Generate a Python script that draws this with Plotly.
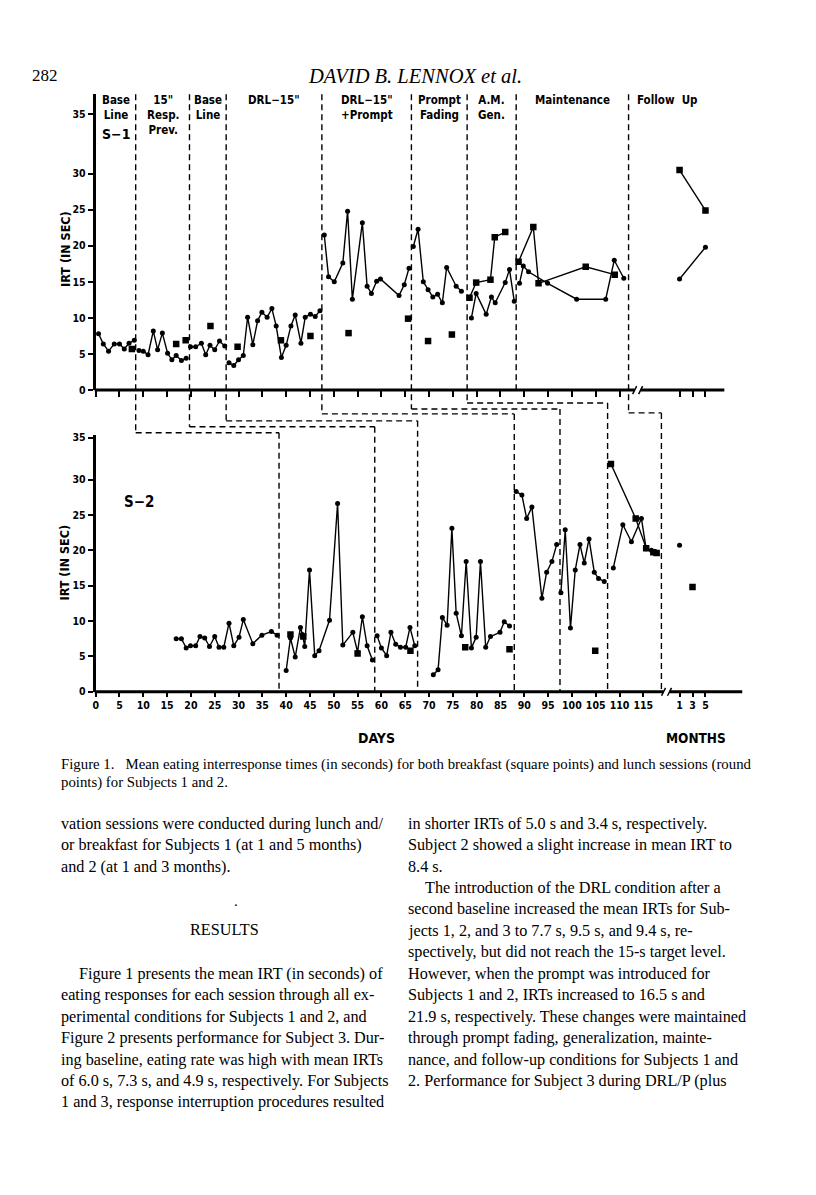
import plotly.graph_objects as go

# page is 816x1195; the browser adds an 8px body margin, so the figure is 800x1179
PAGE_W, PAGE_H, OFF = 816, 1195, 8
W, H = PAGE_W - 2 * OFF, PAGE_H - 2 * OFF

# ---------------- data ----------------
S1_PHASE_CHANGES = [8.4, 19.7, 27.4, 47.5, 66.3, 78.0, 88.3, 111.9]
S2_PHASE_CHANGES = [38.5, 58.6, 67.6, 87.9, 97.5, 107.5, 118.8]

S1_PHASE_LABELS = [["Base", "Line"], ['15"', "Resp.", "Prev."], ["Base", "Line"],
                   ['DRL\u221215"'], ['DRL\u221215"', "+Prompt"], ["Prompt", "Fading"],
                   ["A.M.", "Gen."], ["Maintenance"], ["Follow\u00a0\u00a0Up"]]

# Subject 1 – lunch (round points), one list per phase
S1_LUNCH_DAYS = [
    [0.6, 1.6, 2.7, 3.9, 5.0, 6.0, 7.0, 8.1],
    [9.1, 10.0, 11.0, 12.1, 13.0, 14.0, 15.1, 16.0, 16.9, 18.0, 19.0],
    [19.9, 21.0, 22.2, 23.1, 24.0, 25.0, 26.0, 27.1],
    [28.0, 29.0, 30.0, 31.0, 31.9, 33.0, 34.0, 34.9, 36.0, 37.0, 37.9, 39.0, 40.0, 41.0,
     41.9, 43.1, 44.0, 45.1, 46.1, 47.1],
    [48.0, 48.9, 50.1, 51.9, 52.9, 53.9, 56.0, 57.0, 57.9, 59.0, 59.8, 63.7, 64.8, 65.8],
    [66.7, 67.7, 68.8, 69.8, 70.8, 71.8, 72.8, 73.7, 75.7, 76.8],
    [78.9, 79.9, 82.0, 83.1, 83.9, 86.0, 86.9, 87.9],
    [89.0, 89.8, 90.9, 94.9, 101.0, 107.1, 108.9, 110.9],
]
S1_LUNCH_IRT = [
    [7.8, 6.4, 5.4, 6.4, 6.4, 5.7, 6.5, 6.9],
    [5.5, 5.4, 4.9, 8.2, 5.6, 7.9, 5.1, 4.2, 4.8, 4.1, 4.4],
    [6.0, 6.0, 6.5, 4.9, 6.2, 5.6, 6.8, 6.1],
    [3.8, 3.4, 4.2, 4.8, 10.1, 6.3, 9.6, 10.8, 10.1, 11.3, 8.9, 4.5, 6.2, 8.9,
     10.4, 6.5, 10.1, 10.5, 10.2, 11.0],
    [21.5, 15.7, 15.0, 17.6, 24.8, 12.6, 23.2, 14.4, 13.4, 15.1, 15.4, 13.1, 14.6, 16.9],
    [19.9, 22.3, 15.0, 13.9, 12.9, 13.3, 12.1, 17.0, 14.4, 13.7],
    [10.0, 13.4, 10.5, 12.9, 12.1, 14.9, 16.7, 12.3],
    [14.8, 17.2, 16.4, 14.8, 12.6, 12.6, 18.0, 15.5],
]
# Subject 1 – breakfast (square points)
S1_BREAKFAST_LINE_DAYS = [[78.5, 79.9, 82.9, 83.8, 86.0], [88.8, 91.9, 93.0, 102.9, 109.0]]
S1_BREAKFAST_LINE_IRT = [[12.8, 14.9, 15.3, 21.2, 21.9], [17.8, 22.6, 14.8, 17.1, 16.0]]
S1_BREAKFAST_DAYS = [7.6, 16.9, 18.9, 24.1, 29.8, 38.9, 45.1, 53.1, 65.6, 69.8, 74.8]
S1_BREAKFAST_IRT = [5.7, 6.4, 6.9, 8.9, 6.0, 6.9, 7.5, 7.9, 9.9, 6.8, 7.7]
S1_FOLLOWUP_MONTHS = [1, 5]
S1_FOLLOWUP_BREAKFAST = [30.5, 24.9]
S1_FOLLOWUP_LUNCH = [15.4, 19.8]

# Subject 2 – lunch (round points), one list per phase
S2_LUNCH_DAYS = [
    [16.9, 18.0, 19.0, 19.9, 21.0, 21.9, 22.9, 23.9, 25.0, 25.9, 26.9, 28.0, 29.0, 30.1,
     31.0, 33.0, 34.9, 36.9, 38.1],
    [40.0, 40.9, 41.9, 43.0, 43.4, 43.9, 44.9, 46.0, 46.9, 49.1, 50.8, 51.9, 54.0, 55.0,
     56.0, 57.0, 58.1],
    [59.1, 60.0, 61.1, 62.0, 63.0, 64.0, 65.1, 66.0, 67.0],
    [70.9, 71.9, 72.8, 73.8, 74.8, 75.7, 76.8, 77.8, 78.9, 79.9, 80.8, 81.9, 82.9, 84.9,
     85.8, 86.9],
    [88.3, 89.5, 90.5, 91.6, 93.7, 94.7, 95.8, 96.8],
    [97.7, 98.6, 99.7, 100.7, 101.7, 102.6, 103.6, 104.7, 105.6, 106.8],
    [108.7, 110.7, 112.5, 114.6, 115.6, 116.7, 117.7],
]
S2_LUNCH_IRT = [
    [7.5, 7.5, 6.2, 6.5, 6.5, 7.8, 7.6, 6.4, 7.8, 6.3, 6.3, 9.7, 6.5, 7.7,
     10.2, 6.8, 8.0, 8.5, 8.0],
    [3.0, 7.6, 4.9, 9.1, 8.1, 6.4, 17.2, 5.1, 5.8, 10.1, 26.6, 6.6, 8.4, 5.6,
     10.6, 6.5, 4.5],
    [7.9, 6.2, 5.1, 8.4, 6.7, 6.3, 6.3, 9.1, 6.5],
    [2.4, 3.1, 10.5, 9.4, 23.1, 11.1, 7.9, 18.4, 6.2, 7.7, 18.4, 6.3, 7.8, 8.4,
     9.9, 9.3],
    [28.3, 27.8, 24.5, 26.1, 13.2, 16.9, 18.4, 20.8],
    [14.0, 22.9, 9.0, 17.2, 20.8, 18.2, 21.6, 16.9, 16.0, 15.6],
    [17.5, 23.6, 21.2, 24.5, 20.2, 20.0, 19.6],
]
S2_BREAKFAST_LINE_DAYS = [[108.2, 113.4, 115.6, 117.1, 117.8]]
S2_BREAKFAST_LINE_IRT = [[32.2, 24.5, 20.3, 19.7, 19.6]]
S2_BREAKFAST_DAYS = [40.9, 43.6, 55.0, 66.1, 77.6, 86.9, 104.9]
S2_BREAKFAST_IRT = [8.1, 7.8, 5.4, 5.8, 6.3, 6.0, 5.8]
S2_FOLLOWUP_LUNCH_MONTHS = [1]
S2_FOLLOWUP_LUNCH = [20.7]
S2_FOLLOWUP_BREAKFAST_MONTHS = [3]
S2_FOLLOWUP_BREAKFAST = [14.8]

DAY_TICKS = list(range(0, 120, 5))
MONTH_TICKS = [1, 3, 5]
Y_TICKS = [0, 5, 10, 15, 20, 25, 30, 35]

# ---------------- layout geometry (page pixels) ----------------
X0_PX, X1_PX, PX_PER_DAY = 93, 740, 4.78
XMAX = (X1_PX - X0_PX) / PX_PER_DAY
MONTH_ORIGIN, MONTH_STEP = 121.25, 1.36          # months drawn after the axis break

TOP_Y0_PX, TOP_Y1_PX, TOP_PX_PER_UNIT = 390, 92, 7.27
BOT_Y0_PX, BOT_Y1_PX, BOT_PX_PER_UNIT = 694, 435, 7.13
TOP_YMAX = (TOP_Y0_PX - TOP_Y1_PX) / TOP_PX_PER_UNIT
BOT_YMAX = (BOT_Y0_PX - BOT_Y1_PX) / BOT_PX_PER_UNIT
TOP_35_POS = (TOP_Y0_PX - 112) / TOP_PX_PER_UNIT   # the "35" tick sits higher in the original
BOT_35_POS = (BOT_Y0_PX - 438) / BOT_PX_PER_UNIT

CHART_FONT = "DejaVu Sans Condensed, Liberation Sans Narrow, Arial Narrow, Liberation Sans, sans-serif"
SERIF = "Liberation Serif, Times New Roman, serif"


def mx(m):
    return MONTH_ORIGIN + MONTH_STEP * m


def px(xp):
    return (xp - OFF) / W


def py(yp):
    return 1 - (yp - OFF) / H


def joined(groups_x, groups_y):
    xs, ys = [], []
    for gx, gy in zip(groups_x, groups_y):
        xs += list(gx) + [None]
        ys += list(gy) + [None]
    return xs, ys


LINE = dict(color="black", width=1.4)
ROUND = dict(symbol="circle", size=5, color="black")
SQUARE = dict(symbol="square", size=6.5, color="black")

fig = go.Figure()


def add_panel(xa, ya, lunch_d, lunch_v, bl_d, bl_v, b_d, b_v):
    x, y = joined(lunch_d, lunch_v)
    fig.add_trace(go.Scatter(x=x, y=y, mode="lines+markers", line=LINE, marker=ROUND,
                             xaxis=xa, yaxis=ya, connectgaps=False, hoverinfo="skip"))
    x, y = joined(bl_d, bl_v)
    fig.add_trace(go.Scatter(x=x, y=y, mode="lines+markers", line=LINE, marker=SQUARE,
                             xaxis=xa, yaxis=ya, connectgaps=False, hoverinfo="skip"))
    fig.add_trace(go.Scatter(x=b_d, y=b_v, mode="markers", marker=SQUARE,
                             xaxis=xa, yaxis=ya, hoverinfo="skip"))


add_panel("x", "y", S1_LUNCH_DAYS, S1_LUNCH_IRT, S1_BREAKFAST_LINE_DAYS,
          S1_BREAKFAST_LINE_IRT, S1_BREAKFAST_DAYS, S1_BREAKFAST_IRT)
fig.add_trace(go.Scatter(x=[mx(m) for m in S1_FOLLOWUP_MONTHS], y=S1_FOLLOWUP_BREAKFAST,
                         mode="lines+markers", line=LINE, marker=SQUARE, xaxis="x", yaxis="y"))
fig.add_trace(go.Scatter(x=[mx(m) for m in S1_FOLLOWUP_MONTHS], y=S1_FOLLOWUP_LUNCH,
                         mode="lines+markers", line=LINE, marker=ROUND, xaxis="x", yaxis="y"))

add_panel("x2", "y2", S2_LUNCH_DAYS, S2_LUNCH_IRT, S2_BREAKFAST_LINE_DAYS,
          S2_BREAKFAST_LINE_IRT, S2_BREAKFAST_DAYS, S2_BREAKFAST_IRT)
fig.add_trace(go.Scatter(x=[mx(m) for m in S2_FOLLOWUP_LUNCH_MONTHS], y=S2_FOLLOWUP_LUNCH,
                         mode="markers", marker=ROUND, xaxis="x2", yaxis="y2"))
fig.add_trace(go.Scatter(x=[mx(m) for m in S2_FOLLOWUP_BREAKFAST_MONTHS], y=S2_FOLLOWUP_BREAKFAST,
                         mode="markers", marker=SQUARE, xaxis="x2", yaxis="y2"))

tick_font = dict(family=CHART_FONT, size=10.5, color="black", weight="bold")
xdom = [px(X0_PX), px(X1_PX)]
all_xticks = DAY_TICKS + [mx(m) for m in MONTH_TICKS]

fig.update_layout(
    width=W, height=H, margin=dict(l=0, r=0, t=0, b=0),
    paper_bgcolor="white", plot_bgcolor="rgba(0,0,0,0)", showlegend=False,
    xaxis=dict(domain=xdom, range=[0, XMAX], anchor="y", showline=False, showgrid=False,
               zeroline=False, ticks="outside", ticklen=6, tickwidth=1.5, tickcolor="black",
               tickvals=DAY_TICKS[:-1] + [mx(m) for m in MONTH_TICKS], showticklabels=False),
    yaxis=dict(domain=[py(TOP_Y0_PX), py(TOP_Y1_PX)], range=[0, TOP_YMAX], anchor="x",
               showline=True, linewidth=3, linecolor="black", showgrid=False, zeroline=False,
               ticks="outside", ticklen=5, tickwidth=1.5, tickcolor="black",
               tickvals=Y_TICKS[:-1] + [TOP_35_POS], ticktext=[str(v) for v in Y_TICKS],
               tickfont=tick_font),
    xaxis2=dict(domain=xdom, range=[0, XMAX], anchor="y2", showline=False, showgrid=False,
                zeroline=False, ticks="outside", ticklen=4, tickwidth=1.5, tickcolor="black",
                tickvals=all_xticks,
                ticktext=[str(v) for v in DAY_TICKS] + [str(m) for m in MONTH_TICKS],
                tickfont=tick_font),
    yaxis2=dict(domain=[py(BOT_Y0_PX), py(BOT_Y1_PX)], range=[0, BOT_YMAX], anchor="x2",
                showline=True, linewidth=3, linecolor="black", showgrid=False, zeroline=False,
                ticks="outside", ticklen=5, tickwidth=1.5, tickcolor="black",
                tickvals=Y_TICKS[:-1] + [BOT_35_POS], ticktext=[str(v) for v in Y_TICKS],
                tickfont=tick_font),
)

shapes = []


def pline(x0, y0, x1, y1, w=3, dash=None):
    shapes.append(dict(type="line", xref="paper", yref="paper", x0=px(x0), y0=py(y0),
                       x1=px(x1), y1=py(y1), line=dict(color="black", width=w, dash=dash)))


# x-axis lines with "//" break
for y_ax, brk, end in [(TOP_Y0_PX, 637, 724), (BOT_Y0_PX, 666, 742)]:
    pline(X0_PX - 1, y_ax, brk - 3, y_ax)
    pline(brk + 3, y_ax, end, y_ax)
    pline(brk - 5, y_ax + 4, brk - 1, y_ax - 4, w=1.5)
    pline(brk + 1, y_ax + 4, brk + 5, y_ax - 4, w=1.5)

DASH = "6px,4px"


def dline(xd0, y0, xd1, y1):
    shapes.append(dict(type="line", xref="x", yref="paper", x0=xd0, y0=py(y0), x1=xd1,
                       y1=py(y1), line=dict(color="black", width=1.4, dash=DASH)))


# staircase of phase-change lines linking both subjects
CONNECT = {0: (0, 433), 1: (1, 427), 2: (2, 421), 3: (3, 414), 4: (4, 409), 5: (5, 403), 7: (6, 413)}
for i, d in enumerate(S1_PHASE_CHANGES):
    if i in CONNECT:
        j, ycon = CONNECT[i]
        d2 = S2_PHASE_CHANGES[j]
        dline(d, TOP_Y1_PX, d, ycon)
        dline(d, ycon, d2, ycon)
        dline(d2, ycon, d2, BOT_Y0_PX)
    else:
        dline(d, TOP_Y1_PX, d, TOP_Y0_PX)

fig.update_layout(shapes=shapes)

annotations = []


def ann(text, x, y, size, family=CHART_FONT, bold=True, xref="paper", xanchor="center",
        yanchor="middle", italic=False, angle=0):
    annotations.append(dict(
        text=text, x=(x if xref != "paper" else px(x)), y=py(y), xref=xref, yref="paper",
        xanchor=xanchor, yanchor=yanchor, showarrow=False, textangle=angle,
        font=dict(family=family, size=size, color="black",
                  weight="bold" if bold else "normal", style="italic" if italic else "normal")))


# phase labels for Subject 1 (one wrapped text per phase)
bounds = [0] + S1_PHASE_CHANGES
for k, lines in enumerate(S1_PHASE_LABELS):
    if k < len(S1_PHASE_CHANGES):
        mid = (bounds[k] + bounds[k + 1]) / 2
    else:
        mid = 119.9
    ann("<br>".join(lines), mid, 89, 11.5, xref="x", yanchor="top")

ann("S\u22121", 113, 132, 14)
ann("S\u22122", 136, 503, 15)
ann("IRT (IN SEC)", 62, 248, 12.5, angle=-90)
ann("IRT (IN SEC)", 62, 564, 12.5, angle=-90)
ann("DAYS", 375, 741, 14)
ann("MONTHS", 696, 741, 13.5)

# page header
ann("282", 27, 73, 17, family=SERIF, bold=False, xanchor="left")
ann("DAVID B. LENNOX et al.", 414, 73, 20.5, family=SERIF, bold=False, italic=True)

# caption
ann("Figure 1.\u00a0\u00a0\u00a0Mean eating interresponse times (in seconds) for both breakfast "
    "(square points) and lunch sessions (round", 56, 767, 14.8, family=SERIF, bold=False,
    xanchor="left")
ann("points) for Subjects 1 and 2.", 56, 785, 14.8, family=SERIF, bold=False, xanchor="left")

LEFT_COL = [
    (1, 0, "vation sessions were conducted during lunch and/"),
    (2, 0, "or breakfast for Subjects 1 (at 1 and 5 months)"),
    (3, 0, "and 2 (at 1 and 3 months)."),
    (8, 18, "Figure 1 presents the mean IRT (in seconds) of"),
    (9, 0, "eating responses for each session through all ex-"),
    (10, 0, "perimental conditions for Subjects 1 and 2, and"),
    (11, 0, "Figure 2 presents performance for Subject 3. Dur-"),
    (12, 0, "ing baseline, eating rate was high with mean IRTs"),
    (13, 0, "of 6.0 s, 7.3 s, and 4.9 s, respectively. For Subjects"),
    (14, 0, "1 and 3, response interruption procedures resulted"),
]
RIGHT_COL = [
    (1, 0, "in shorter IRTs of 5.0 s and 3.4 s, respectively."),
    (2, 0, "Subject 2 showed a slight increase in mean IRT to"),
    (3, 0, "8.4 s."),
    (4, 18, "The introduction of the DRL condition after a"),
    (5, 0, "second baseline increased the mean IRTs for Sub-"),
    (6, 0, "jects 1, 2, and 3 to 7.7 s, 9.5 s, and 9.4 s, re-"),
    (7, 0, "spectively, but did not reach the 15-s target level."),
    (8, 0, "However, when the prompt was introduced for"),
    (9, 0, "Subjects 1 and 2, IRTs increased to 16.5 s and"),
    (10, 0, "21.9 s, respectively. These changes were maintained"),
    (11, 0, "through prompt fading, generalization, mainte-"),
    (12, 0, "nance, and follow-up conditions for Subjects 1 and"),
    (13, 0, "2. Performance for Subject 3 during DRL/P (plus"),
]
LINE0, LSTEP = 827, 21.6
for n, ind, t in LEFT_COL:
    ann(t, 56 + ind, LINE0 + (n - 1) * LSTEP, 16.2, family=SERIF, bold=False, xanchor="left")
for n, ind, t in RIGHT_COL:
    ann(t, 404 + ind, LINE0 + (n - 1) * LSTEP, 16.2, family=SERIF, bold=False, xanchor="left")
ann(".", 234, 905, 15, family=SERIF, bold=False)
ann("RESULTS", 222, 934, 16.2, family=SERIF, bold=False)

fig.update_layout(annotations=annotations)
fig.write_html("out.html")
